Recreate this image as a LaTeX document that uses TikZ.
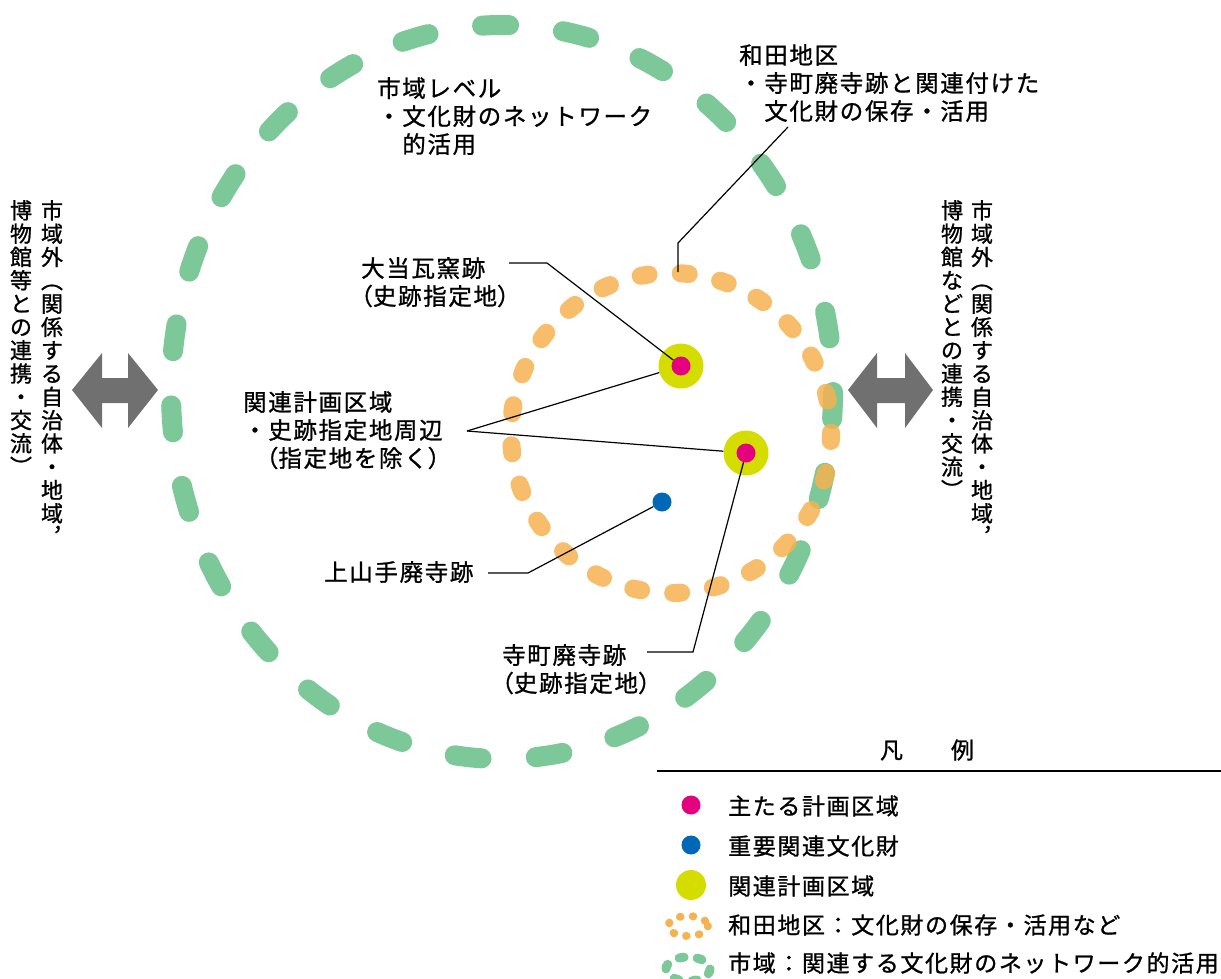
\documentclass[tikz,border=0pt]{standalone}
\usepackage{fontspec}
\setmainfont{Noto Sans CJK JP}[LetterSpace=7, FakeBold=1]
\newfontfamily\vfont{Noto Sans CJK JP}[FakeBold=1]
\newfontfamily\lgfont{Noto Sans CJK JP}[LetterSpace=7, FakeBold=1]
\newcommand\hp[1]{{\addfontfeature{RawFeature=+halt}#1}}
\definecolor{cgreen}{RGB}{124,200,152}
\definecolor{corange}{RGB}{246,178,80}
\definecolor{cpink}{RGB}{228,0,127}
\definecolor{cyellow}{RGB}{213,220,0}
\definecolor{cblue}{RGB}{0,104,183}
\definecolor{cgray}{RGB}{112,112,112}
\begin{document}
\begin{tikzpicture}[x=1pt,y=-1pt,
  txt/.style={inner sep=0pt, align=left, anchor=north west, font=\fontsize{23.5}{28}\selectfont},
  vtext/.style={inner sep=0pt, align=center, anchor=north, font=\vfont\fontsize{22}{23.3}\selectfont},
  leader/.style={draw=black, line width=1.2pt},
  dot/.style={circle, inner sep=0pt, draw=none},
  lgtxt/.style={inner sep=0pt, anchor=west, font=\lgfont\fontsize{23}{28}\selectfont}]
\useasboundingbox (0,0) rectangle (1221,978);
\fill[white] (0,0) rectangle (1221,978);
% big green dashed ellipse
\draw[cgreen, line width=20pt, line cap=round, dash pattern=on 27pt off 54.3pt]
  (502,392) ellipse [x radius=331, y radius=367];
% orange dotted circle
\draw[corange, opacity=0.85, line width=18pt, line cap=round, dash pattern=on 8pt off 32.2pt]
  (671,433) circle [radius=160];
% double arrows
\fill[cgray] (72,390) -- (102,353) -- (102,378) -- (128,378) -- (128,353) -- (158,390)
  -- (128,428) -- (128,403) -- (102,403) -- (102,428) -- cycle;
\fill[cgray] (848,390) -- (877,353) -- (877,378) -- (905,378) -- (905,353) -- (933,390)
  -- (905,428) -- (905,403) -- (877,403) -- (877,428) -- cycle;
% dots
\node[dot, fill=cyellow, minimum size=45pt] (y1) at (681,366) {};
\node[dot, fill=cyellow, minimum size=45pt] (y2) at (746,453) {};
\node[dot, fill=cpink, minimum size=19pt] (p1) at (681,366) {};
\node[dot, fill=cpink, minimum size=19pt] (p2) at (746,453) {};
\node[dot, fill=cblue, minimum size=19pt] (b1) at (662,502) {};
% texts
\node[txt] (lvl) at (377,77) {市域レベル\\・文化財のネットワーク\\　的活用};
\node[txt] (wada) at (739,44) {和田地区\\・寺町廃寺跡と関連付けた\\　文化財の保存・活用};
\node[txt] (daito) at (361,257) {大当瓦窯跡\\\hp{（}史跡指定地\hp{）}};
\node[txt] (kanren) at (243,391) {関連計画区域\\・史跡指定地周辺\\　\hp{（}指定地を除く\hp{）}};
\node[txt] (kamiyama) at (324,561) {上山手廃寺跡};
\node[txt] (tera) at (502,644) {寺町廃寺跡\\\hp{（}史跡指定地\hp{）}};
% leaders
\coordinate (wA) at (788,127);
\coordinate (wB) at (678,243);
\coordinate (wC) at (678,272);
\draw[leader] (wA) -- (wB) -- (wC);
\coordinate (dA) at (509,263);
\coordinate (dB) at (547,263);
\draw[leader] (dA) -- (dB) -- (p1);
\coordinate (kJ) at (467,431);
\draw[leader] (kJ) -- (y1);
\draw[leader] (kJ) -- (y2);
\coordinate (mA) at (488,573);
\coordinate (mB) at (528,573);
\draw[leader] (mA) -- (mB) -- (b1);
\coordinate (tA) at (647,652);
\coordinate (tB) at (693,652);
\draw[leader] (tA) -- (tB) -- (p2);
% vertical texts
\node[vtext] (L1) at (52,200) {市\\域\\外\\︵\\関\\係\\す\\る\\自\\治\\体\\・\\地\\域\\︐};
\node[vtext] (L2) at (21,200) {博\\物\\館\\等\\と\\の\\連\\携\\・\\交\\流\\︶};
\node[vtext] (R1) at (982,200) {市\\域\\外\\︵\\関\\係\\す\\る\\自\\治\\体\\・\\地\\域\\︐};
\node[vtext] (R2) at (952,200) {博\\物\\館\\な\\ど\\と\\の\\連\\携\\・\\交\\流\\︶};
% legend
\node[inner sep=0pt, font=\vfont\fontsize{23}{28}\selectfont] (lgT) at (927,750) {凡\kern 48pt 例};
\coordinate (lgA) at (657,771);
\coordinate (lgB) at (1221,771);
\draw[line width=2pt] (lgA) -- (lgB);
\node[dot, fill=cpink, minimum size=19pt] (lg1) at (691,805) {};
\node[dot, fill=cblue, minimum size=19pt] (lg2) at (691,845) {};
\node[dot, fill=cyellow, minimum size=30pt] (lg3) at (691,885) {};
\draw[corange, line width=8pt, line cap=round, dash pattern=on 0.5pt off 12.4pt, dash phase=0.25pt] (688,926) ellipse [x radius=20, y radius=10];
\draw[cgreen, line width=9pt, line cap=round, dash pattern=on 5pt off 13.2pt] (688,969) ellipse [x radius=22, y radius=12];
\node[lgtxt] (lt1) at (728,806) {主たる計画区域};
\node[lgtxt] (lt2) at (728,846) {重要関連文化財};
\node[lgtxt] (lt3) at (728,886) {関連計画区域};
\node[lgtxt] (lt4) at (728,925) {和田地区：文化財の保存・活用など};
\node[lgtxt] (lt5) at (728,963) {市域：関連する文化財のネットワーク的活用};
\end{tikzpicture}
\end{document}
